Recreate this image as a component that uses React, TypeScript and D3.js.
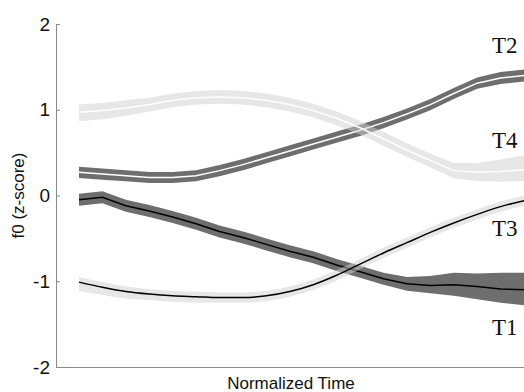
import React from "react";
import * as d3 from "d3";

// Normalized time steps (20 samples across the syllable)
const timeSteps = d3.range(20);

// Mean f0 (z-score) per tone
const t1Mean = [-0.05, -0.02, -0.12, -0.18, -0.25, -0.33, -0.42, -0.49, -0.57, -0.65, -0.72, -0.81, -0.89, -0.97, -1.03, -1.05, -1.04, -1.06, -1.09, -1.1];
const t2Mean = [0.27, 0.25, 0.23, 0.21, 0.21, 0.23, 0.29, 0.36, 0.44, 0.52, 0.6, 0.68, 0.76, 0.85, 0.95, 1.06, 1.19, 1.31, 1.37, 1.4];
const t3Mean = [-1.01, -1.07, -1.12, -1.15, -1.17, -1.18, -1.19, -1.19, -1.17, -1.12, -1.04, -0.93, -0.8, -0.67, -0.55, -0.43, -0.32, -0.22, -0.13, -0.06];
const t4Mean = [0.97, 0.99, 1.02, 1.06, 1.11, 1.14, 1.15, 1.14, 1.11, 1.06, 0.99, 0.9, 0.79, 0.66, 0.53, 0.41, 0.29, 0.27, 0.28, 0.3];

// Confidence band extents above (hi) and below (lo) the mean
const t1Hi = [0.07, 0.07, 0.07, 0.07, 0.07, 0.07, 0.07, 0.07, 0.07, 0.07, 0.07, 0.07, 0.07, 0.07, 0.08, 0.11, 0.14, 0.15, 0.19, 0.2];
const t1Lo = [0.07, 0.07, 0.07, 0.07, 0.07, 0.07, 0.07, 0.07, 0.07, 0.07, 0.07, 0.07, 0.07, 0.07, 0.08, 0.09, 0.13, 0.15, 0.16, 0.18];
const t2Hi = [0.065, 0.065, 0.065, 0.065, 0.065, 0.065, 0.065, 0.065, 0.065, 0.065, 0.065, 0.065, 0.065, 0.065, 0.065, 0.065, 0.065, 0.065, 0.07, 0.07];
const t2Lo = [0.065, 0.065, 0.065, 0.065, 0.065, 0.065, 0.065, 0.065, 0.065, 0.065, 0.065, 0.065, 0.065, 0.065, 0.065, 0.065, 0.065, 0.065, 0.07, 0.07];
const t3Hi = [0.06, 0.06, 0.06, 0.06, 0.06, 0.06, 0.06, 0.06, 0.06, 0.06, 0.06, 0.06, 0.06, 0.06, 0.06, 0.06, 0.06, 0.06, 0.06, 0.06];
const t3Lo = [0.1, 0.09, 0.08, 0.07, 0.07, 0.07, 0.06, 0.06, 0.06, 0.06, 0.06, 0.06, 0.06, 0.06, 0.06, 0.06, 0.06, 0.06, 0.06, 0.06];
const t4Hi = [0.09, 0.09, 0.09, 0.08, 0.08, 0.08, 0.08, 0.08, 0.08, 0.08, 0.08, 0.08, 0.08, 0.08, 0.08, 0.08, 0.09, 0.11, 0.14, 0.17];
const t4Lo = [0.1, 0.1, 0.09, 0.08, 0.08, 0.08, 0.08, 0.08, 0.08, 0.08, 0.08, 0.08, 0.08, 0.08, 0.08, 0.08, 0.09, 0.1, 0.12, 0.13];

const yTicks = [-2, -1, 0, 1, 2];
const toneLabels = ["T1", "T2", "T3", "T4"];
const labelValues = [-1.63, 1.66, -0.47, 0.55];

const W = 524;
const H = 392;

const x = d3.scaleLinear().domain([0, 19]).range([79, 524]);
const y = d3.scaleLinear().domain([-2, 2]).range([367, 24]);

type Tone = {
  mean: number[];
  hi: number[];
  lo: number[];
  band: string;
  bandOpacity: number;
  line: string;
  curve: d3.CurveFactory;
};

const tones: Tone[] = [
  { mean: t1Mean, hi: t1Hi, lo: t1Lo, band: "#4a4a4a", bandOpacity: 0.8, line: "#000", curve: d3.curveLinear },
  { mean: t2Mean, hi: t2Hi, lo: t2Lo, band: "#4a4a4a", bandOpacity: 0.8, line: "#fff", curve: d3.curveLinear },
  { mean: t3Mean, hi: t3Hi, lo: t3Lo, band: "#cfcfcf", bandOpacity: 0.5, line: "#000", curve: d3.curveMonotoneX },
  { mean: t4Mean, hi: t4Hi, lo: t4Lo, band: "#cfcfcf", bandOpacity: 0.5, line: "#fff", curve: d3.curveLinear },
];

export default function App() {
  const axisColor = "#8a8a8a";
  const sans = "'Liberation Sans', Arial, Helvetica, sans-serif";
  const serif = "'Liberation Serif', 'Times New Roman', serif";

  return (
    <svg
      width={W}
      height={H}
      style={{ position: "absolute", left: 0, top: 0, background: "#fff" }}
    >
      <defs>
        <clipPath id="plot-clip">
          <rect x={56} y={0} width={W - 56} height={367} />
        </clipPath>
      </defs>

      <g clipPath="url(#plot-clip)">
        {tones.map((t, k) => {
          const bandPath = d3
            .area<number>()
            .x((i) => x(timeSteps[i]))
            .y0((i) => y(t.mean[i] - t.lo[i]))
            .y1((i) => y(t.mean[i] + t.hi[i]))
            .curve(t.curve)(timeSteps);
          const meanPath = d3
            .line<number>()
            .x((i) => x(timeSteps[i]))
            .y((i) => y(t.mean[i]))
            .curve(t.curve)(timeSteps);
          return (
            <g key={k}>
              <path d={bandPath ?? ""} fill={t.band} fillOpacity={t.bandOpacity} />
              <path d={meanPath ?? ""} fill="none" stroke={t.line} strokeWidth={1.5} />
            </g>
          );
        })}
      </g>

      {/* Axes */}
      <line x1={56.5} x2={56.5} y1={24} y2={367.5} stroke={axisColor} strokeWidth={1} />
      <line x1={56} x2={W} y1={367.5} y2={367.5} stroke={axisColor} strokeWidth={1} />
      {yTicks.map((v) => (
        <g key={v}>
          <line x1={56.5} x2={60} y1={y(v) + 0.5} y2={y(v) + 0.5} stroke={axisColor} />
          <text
            x={50}
            y={y(v)}
            dy="0.35em"
            textAnchor="end"
            fontFamily={sans}
            fontSize={19}
            fill="#111"
          >
            {v}
          </text>
        </g>
      ))}

      <text
        transform={`translate(24,${y(0)}) rotate(-90)`}
        textAnchor="middle"
        fontFamily={sans}
        fontSize={17}
        fill="#111"
      >
        f0 (z-score)
      </text>
      <text x={291} y={389} textAnchor="middle" fontFamily={sans} fontSize={17} fill="#111">
        Normalized Time
      </text>

      {toneLabels.map((lab, k) => (
        <text
          key={lab}
          x={492}
          y={y(labelValues[k])}
          fontFamily={serif}
          fontSize={23}
          fill="#111"
        >
          {lab}
        </text>
      ))}
    </svg>
  );
}
